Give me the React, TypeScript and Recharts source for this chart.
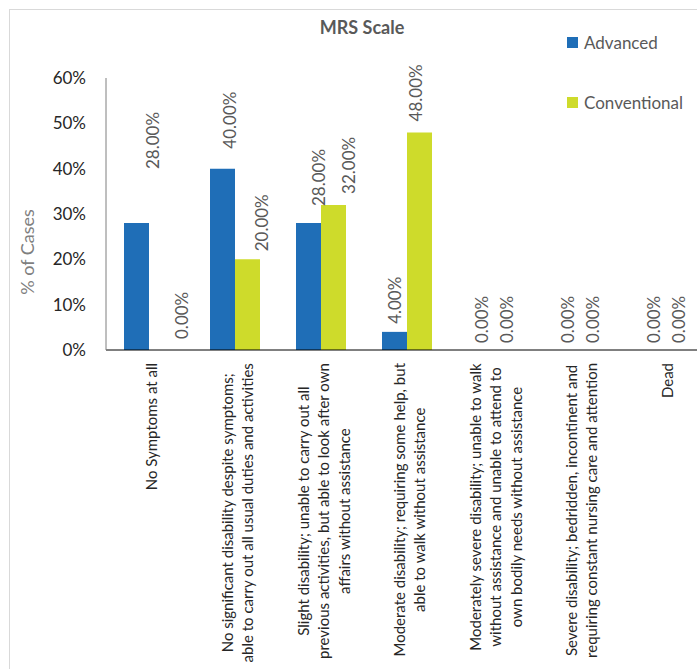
import React from 'react';
import { BarChart, Bar, XAxis, YAxis, LabelList } from 'recharts';

// MRS categories, each split in the lines the reference wraps them to
const categories: string[][] = [
  ['No Symptoms at all'],
  ['No significant disability despite symptoms;', 'able to carry out all usual duties and activities'],
  ['Slight disability; unable to carry out all', 'previous activities, but able to look after own', 'affairs without assistance'],
  ['Moderate disability; requiring some help, but', 'able to walk without assistance'],
  ['Moderately severe disability; unable to walk', 'without assistance and unable to attend to', 'own bodily needs without assistance'],
  ['Severe disability; bedridden, incontinent and', 'requiring constant nursing care and attention'],
  ['Dead'],
];
const advanced = [0.28, 0.4, 0.28, 0.04, 0, 0, 0];
const conventional = [0, 0.2, 0.32, 0.48, 0, 0, 0];
const yTicks = [0, 0.1, 0.2, 0.3, 0.4, 0.5, 0.6];

// the data labels were dragged by hand in the original: small px nudges (sideways, lift above bar)
const advancedLabelDx = [16, 7, 10, 0, 1, 1, 1];
const advancedLabelLift = [54, 20, 17, 8, 7, 7, 7];
const conventionalLabelDx = [20, 14, 15, -4, 1, 1, 1];
const conventionalLabelLift = [11, 8, 11, 11, 7, 7, 7];

const data = categories.map((lines, i) => ({
  name: lines.join(' '),
  advanced: advanced[i],
  conventional: conventional[i],
}));

const FONT = 'Lato, "Open Sans", sans-serif';
const BLUE = '#1f6eb7';
const LIME = '#cedb2b';
const series = [
  { key: 'advanced', name: 'Advanced', color: BLUE, dx: advancedLabelDx, lift: advancedLabelLift },
  { key: 'conventional', name: 'Conventional', color: LIME, dx: conventionalLabelDx, lift: conventionalLabelLift },
];

let ctx: CanvasRenderingContext2D | null = null;
function textWidth(s: string, font: string) {
  if (!ctx) ctx = document.createElement('canvas').getContext('2d');
  if (!ctx) return s.length * 7;
  ctx.font = font;
  return ctx.measureText(s).width;
}

function CategoryTick(props: any) {
  const { x, y, index } = props;
  const lines = categories[index] || [];
  const fs = 15;
  const lh = 20.5;
  const maxW = Math.max(...lines.map((l) => textWidth(l, `${fs}px Lato`)));
  return (
    <g transform={`translate(${x + 2},${y}) rotate(-90)`}>
      {lines.map((l, i) => (
        <text
          key={i}
          x={-maxW / 2}
          y={(i - (lines.length - 1) / 2) * lh}
          textAnchor="middle"
          dominantBaseline="central"
          fontSize={fs}
          fontFamily={FONT}
          fill="#262626"
        >
          {l}
        </text>
      ))}
    </g>
  );
}

function makeLabel(dx: number[], lift: number[]) {
  return function ValueLabel(props: any) {
    const i = Number(props.index) || 0;
    const x = Number(props.x);
    const y = Number(props.y);
    const w = Number(props.width);
    return (
      <text
        transform={`translate(${x + w / 2 + (dx[i] || 0)},${y - (lift[i] ?? 10)}) rotate(-90)`}
        textAnchor="start"
        dominantBaseline="central"
        fontSize={17}
        fontFamily={FONT}
        fill="#595959"
      >
        {(Number(props.value) * 100).toFixed(2) + '%'}
      </text>
    );
  };
}

export default function App() {
  return (
    <div style={{ position: 'fixed', left: 0, top: 0, width: 697, height: 669, overflow: 'hidden', background: '#fff' }}>
      <div style={{ position: 'absolute', left: 9, top: 9, width: 800, height: 800, border: '1px solid #d9d9d9' }} />
      <div
        style={{
          position: 'absolute',
          left: 0,
          top: 16,
          width: 724,
          textAlign: 'center',
          fontFamily: FONT,
          fontWeight: 'bold',
          fontSize: 18,
          color: '#595959',
        }}
      >
        MRS Scale
      </div>
      <div style={{ position: 'absolute', left: 567, top: 32, fontFamily: FONT }}>
        {series.map((s) => (
          <div key={s.key} style={{ display: 'flex', alignItems: 'center', height: 20, marginBottom: 40 }}>
            <span style={{ width: 11, height: 11, background: s.color, display: 'inline-block', marginRight: 6 }} />
            <span style={{ fontSize: 17, color: '#595959' }}>{s.name}</span>
          </div>
        ))}
      </div>
      <div style={{ position: 'absolute', left: 0, top: 0 }}>
        <BarChart width={720} height={700} data={data} margin={{ top: 78, right: 12, bottom: 0, left: 0 }} barGap={0}>
          <XAxis
            dataKey="name"
            interval={0}
            height={350}
            tickLine={false}
            tickMargin={7}
            axisLine={{ stroke: '#000' }}
            tick={<CategoryTick />}
          />
          <YAxis
            width={106}
            domain={[0, 0.6]}
            ticks={yTicks}
            tickFormatter={(v) => `${Math.round(v * 100)}%`}
            tickLine={false}
            tickMargin={14}
            axisLine={{ stroke: '#7f7f7f' }}
            tick={{ fontSize: 17, fontFamily: FONT, fill: '#262626' }}
            label={{
              value: '% of Cases',
              content: (p: any) => {
                const vb = p.viewBox || { x: 0, y: 78, width: 106, height: 272 };
                const cy = vb.y + vb.height / 2 + 38;
                return (
                  <text
                    transform={`translate(27,${cy}) rotate(-90)`}
                    textAnchor="middle"
                    dominantBaseline="central"
                    fontSize={18}
                    fontFamily={FONT}
                    fill="#7f7f7f"
                  >
                    % of Cases
                  </text>
                );
              },
            }}
          />
          {series.map((s) => {
            const Label = makeLabel(s.dx, s.lift);
            return (
              <Bar
                key={s.key}
                dataKey={s.key}
                name={s.name}
                fill={s.color}
                barSize={25}
                minPointSize={0.01}
                isAnimationActive={false}
              >
                <LabelList dataKey={s.key} content={<Label />} />
              </Bar>
            );
          })}
        </BarChart>
      </div>
    </div>
  );
}
